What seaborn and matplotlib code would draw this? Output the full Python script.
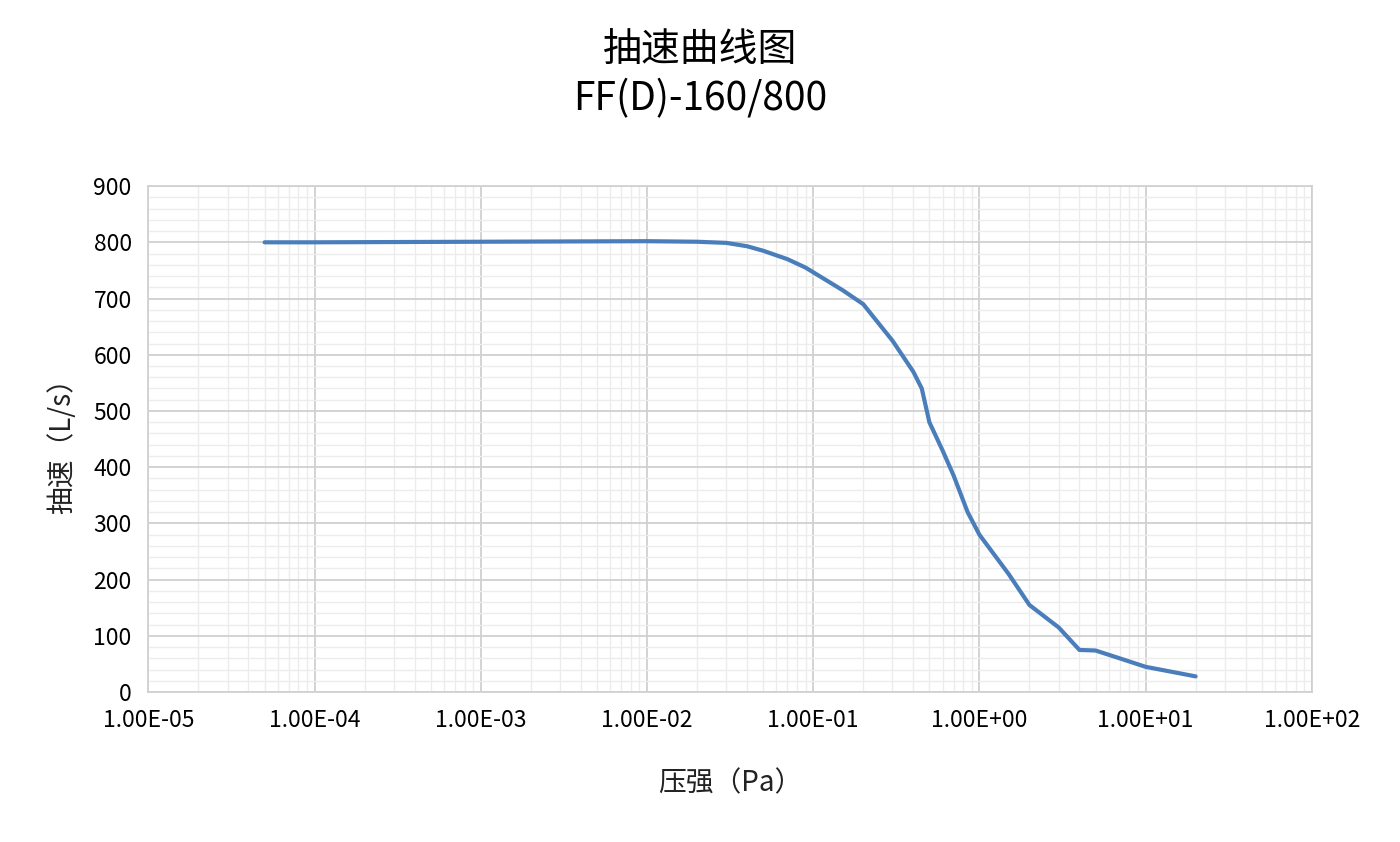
import matplotlib
matplotlib.use("Agg")
import matplotlib.pyplot as plt
import seaborn as sns
import pandas as pd
from matplotlib.ticker import LogLocator, FixedLocator, FuncFormatter

pressure = [5e-5, 1e-4, 1e-3, 1e-2, 2e-2, 3e-2, 4e-2, 5e-2, 7e-2, 0.09, 0.15, 0.2, 0.3, 0.4, 0.45, 0.5,
            0.6, 0.7, 0.85, 1.0, 1.5, 2.0, 3.0, 4.0, 5.0, 7.0, 10.0, 20.0]
speed = [800, 800, 801, 802, 801, 799, 793, 785, 770, 755, 715, 690, 625, 570, 540, 480,
         430, 385, 320, 280, 210, 155, 115, 75, 74, 60, 45, 28]

sns.set_theme(style="white")
plt.rcParams['font.family'] = ['Noto Sans CJK SC', 'DejaVu Sans']

fig, ax = plt.subplots(figsize=(14, 8.42), dpi=100)
fig.subplots_adjust(left=0.106, right=0.937, top=0.779, bottom=0.178)
df = pd.DataFrame({"p": pressure, "s": speed})
sns.lineplot(data=df, x="p", y="s", ax=ax, color="#4a7ebb", linewidth=3, estimator=None, sort=False,
             solid_joinstyle="round", solid_capstyle="round")
ax.set_xscale("log")
ax.set_xlim(1e-5, 1e2)
ax.set_ylim(0, 900)
ax.xaxis.set_major_locator(FixedLocator([10.0**k for k in range(-5, 3)]))
ax.xaxis.set_minor_locator(LogLocator(base=10, subs=range(2, 10), numticks=100))
ax.xaxis.set_major_formatter(FuncFormatter(lambda v, _: f"{v:.2E}"))
ax.xaxis.set_minor_formatter(FuncFormatter(lambda v, _: ""))
ax.set_yticks(range(0, 901, 100))
ax.set_yticks(range(0, 901, 20), minor=True)
ax.grid(which="major", color="#d0d0d0", linewidth=1.3)
ax.grid(which="minor", color="#ececec", linewidth=1.0)
for s in ax.spines.values():
    s.set_color("#d0d0d0")
ax.tick_params(which="both", length=0, labelsize=16.5, pad=12, colors="black")
ax.set_xlabel("压强（Pa）", fontsize=20, labelpad=26, color="#222222")
ax.set_ylabel("抽速（L/s）", fontsize=20, labelpad=12, color="#222222")
fig.suptitle("抽速曲线图\nFF(D)-160/800", fontsize=28, y=0.965, linespacing=1.3, color="black")
fig.savefig("out.png")
